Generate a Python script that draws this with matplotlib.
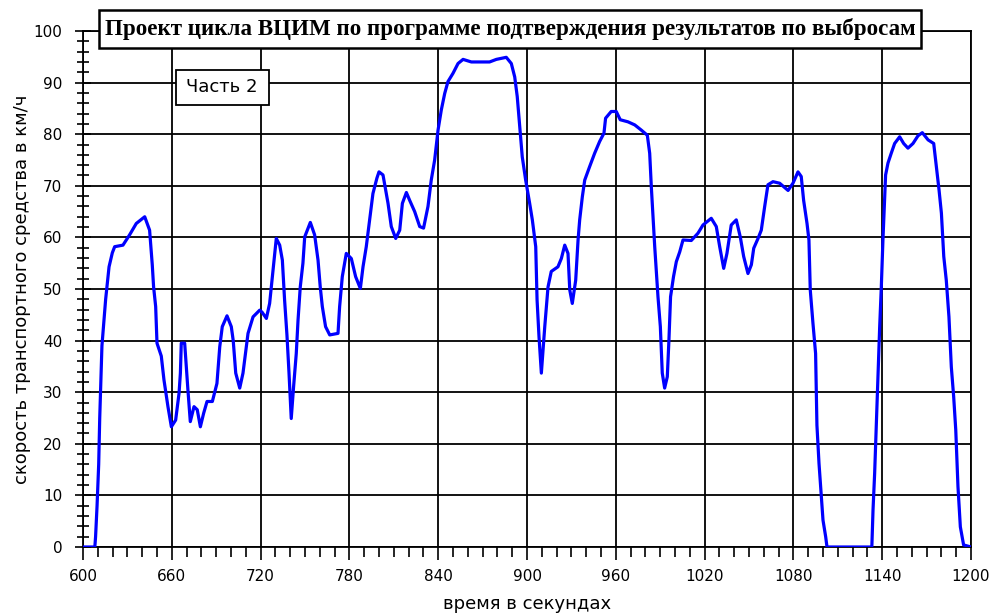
import matplotlib
matplotlib.use("Agg")
import matplotlib.pyplot as plt
import matplotlib.ticker
import matplotlib.patches

# speed trace (time in s, speed in km/h)
times = [600, 608, 608.5, 609.5, 610.6, 611.3, 612.8, 614.2, 615.3, 616.4, 617.6, 619.8,
         621.4, 627, 631.5, 636, 641.7, 645, 646.8, 647.7, 649.1, 650, 652.9, 654.7,
         657.4, 659.7, 662.6, 664.9, 665.8, 666.4, 668.7, 670.9, 672.5, 675, 677.2, 679.3,
         681.5, 683.8, 687.4, 690.5, 692.4, 694.1, 697.3, 700.2, 701.5, 703.2, 705.9, 708.1,
         711.5, 714.9, 719.4, 721, 723.9, 726.1, 728.4, 730.6, 732.9, 734.7, 736.2, 737.8,
         739.2, 740.7, 742.3, 744.1, 745.3, 746.8, 748.6, 749.8, 753.6, 756.5, 758.8, 760.3,
         761.7, 763.9, 766.7, 772.3, 773.4, 775.2, 777.9, 781.3, 784.2, 787.4, 789.2, 791.4,
         793.7, 795.9, 798.6, 800, 802.7, 806.1, 808.3, 811.3, 814, 815.8, 818.5, 820.7,
         824.1, 827.5, 830.1, 833.1, 835.3, 837.6, 839.9, 842.1, 844.4, 846.6, 850, 853.4,
         856.8, 862.4, 874.7, 879.3, 886, 889.4, 891.7, 893.4, 895.1, 896.8, 899.1, 901.8,
         903.6, 905.9, 906.8, 908.1, 909.7, 912, 914.2, 916.4, 920.9, 923.2, 925.5, 927.7,
         928.9, 930.6, 932.9, 934.5, 935.6, 937.4, 939, 942.3, 945.7, 949.1, 952, 953.1,
         956.9, 960.3, 963, 968.2, 972.8, 977.2, 981.3, 982.9, 984, 986.3, 988.5, 990.1,
         991.4, 993, 994.8, 995.9, 997, 999, 1000.9, 1003.2, 1005.4, 1011, 1015.5, 1018.9,
         1024.5, 1027.9, 1030.2, 1032.9, 1035.1, 1038, 1041.4, 1044.1, 1046.4, 1049.3, 1051.6, 1053.2,
         1056.1, 1058.3, 1060.6, 1062.8, 1066.2, 1070.7, 1076.4, 1079.7, 1083.1, 1085.3, 1086.9, 1089.2,
         1090.5, 1091.4, 1093.2, 1095, 1095.9, 1097.3, 1098.9, 1100, 1101.8, 1102.7, 1133, 1133.8,
         1134.9, 1136, 1137.2, 1138.3, 1139.4, 1140.5, 1141.7, 1142.3, 1143.9, 1146.1, 1148.4, 1151.8,
         1154.5, 1157.4, 1160.8, 1164.2, 1167.1, 1171, 1174.8, 1176.6, 1178.4, 1180, 1181.6, 1183.3,
         1185.1, 1186.7, 1188.3, 1189.7, 1191.2, 1192.8, 1195, 1200]
speeds = [0, 0, 2, 8, 16, 25, 39, 44, 48, 51, 54.3, 57,
          58.2, 58.5, 60.5, 62.7, 64, 61.4, 54.7, 50.4, 46.6, 39.5, 37, 32.4,
          27.2, 23.3, 24.6, 29.8, 33.7, 39.5, 39.5, 30.4, 24.3, 27.2, 26.6, 23.3,
          25.9, 28.2, 28.2, 31.7, 38.8, 42.7, 44.8, 42.7, 40, 33.7, 30.8, 33.7,
          41.4, 44.6, 45.9, 45.5, 44.3, 47.2, 53.7, 59.8, 58.5, 55.6, 47.9, 41.1,
          33.7, 24.9, 31.1, 37.5, 44, 50.4, 55, 60.1, 62.9, 60.5, 55.6, 50.4,
          46.6, 42.7, 41.1, 41.4, 46.6, 52.4, 56.9, 55.9, 52.4, 50.1, 54.3, 58.2,
          63.4, 68.5, 71.5, 72.7, 72.1, 66.6, 62.1, 59.8, 61.4, 66.6, 68.7, 67.2,
          65, 62.1, 61.8, 66, 71.1, 75, 80.8, 84.7, 87.9, 90.2, 91.8, 93.7,
          94.5, 94, 94, 94.5, 94.9, 93.7, 91.1, 87.3, 81.5, 75.6, 71.1, 66.6,
          63.4, 58.2, 47.9, 40.8, 33.7, 42.7, 50.4, 53.4, 54.3, 55.9, 58.5, 56.9,
          49.8, 47.2, 51.7, 59.5, 63.4, 67.9, 71.1, 73.7, 76.3, 78.6, 80.2, 83.1,
          84.4, 84.4, 82.8, 82.4, 81.8, 80.8, 79.8, 76.3, 69.8, 58.2, 48.5, 42.7,
          33.7, 30.8, 33, 40.1, 48.5, 52.4, 55.3, 57.2, 59.5, 59.4, 60.8, 62.4,
          63.7, 62.1, 58.2, 54, 56.9, 62.4, 63.4, 60.1, 56.3, 53, 54.7, 57.9,
          59.8, 61.4, 66, 70.2, 70.8, 70.5, 69.1, 70.5, 72.7, 71.8, 67.2, 62.7,
          59.5, 49.8, 43.4, 37.5, 23.6, 16.2, 9.7, 5.2, 2, 0, 0, 7.2,
          14.3, 23.3, 33, 42.7, 50.4, 59.5, 67.9, 72.1, 74.4, 76.3, 78.2, 79.5,
          78.2, 77.3, 78.2, 79.7, 80.3, 78.9, 78.2, 73.7, 69.2, 64.7, 56.3, 51.7,
          44.6, 34.9, 29.1, 22.7, 11.7, 3.9, 0.4, 0]

x_ticks = [600, 660, 720, 780, 840, 900, 960, 1020, 1080, 1140, 1200]
y_ticks = [0, 10, 20, 30, 40, 50, 60, 70, 80, 90, 100]

title = "Проект цикла ВЦИМ по программе подтверждения результатов по выбросам"
part = "Часть 2"
xlabel = "время в секундах"
ylabel = "скорость транспортного средства в км/ч"

W, H = 995, 613
fig = plt.figure(figsize=(W / 100, H / 100), dpi=100)
axes = fig.add_axes([83 / W, 1 - 547 / H, (971 - 83) / W, (547 - 31) / H])

axes.plot(times, speeds, color="#0000ff", linewidth=2.3, zorder=3)

axes.set_xlim(600, 1200)
axes.set_ylim(0, 100)
axes.xaxis.set_major_locator(matplotlib.ticker.FixedLocator(x_ticks))
axes.yaxis.set_major_locator(matplotlib.ticker.FixedLocator(y_ticks))
axes.xaxis.set_minor_locator(matplotlib.ticker.MultipleLocator(10))
axes.yaxis.set_minor_locator(matplotlib.ticker.MultipleLocator(2))

axes.grid(True, which="major", color="black", linewidth=1.3)
for s in axes.spines.values():
    s.set_linewidth(1.3)

axes.tick_params(axis="x", which="major", direction="out", length=9, width=1.2,
                 labelsize=11, pad=7)
axes.tick_params(axis="x", which="minor", direction="out", length=7, width=1.2)
axes.tick_params(axis="y", which="major", direction="inout", length=12, width=1.2,
                 labelsize=11, pad=9)
axes.tick_params(axis="y", which="minor", direction="inout", length=9, width=1.2)

axes.set_xlabel(xlabel, fontsize=13, labelpad=8)
axes.set_ylabel(ylabel, fontsize=13, labelpad=2)

# title box sitting across the top edge of the plot
fig.add_artist(matplotlib.patches.Rectangle((99 / W, 1 - 48 / H), 822 / W, 38 / H,
                                            transform=fig.transFigure, facecolor="white",
                                            edgecolor="black", linewidth=1.8, zorder=5))
fig.text(510 / W, 1 - 29 / H, title, ha="center", va="center", fontsize=16.6,
         fontweight="bold", family="Liberation Serif", zorder=6)

# "part 2" label
fig.add_artist(matplotlib.patches.Rectangle((176 / W, 1 - 105 / H), 93 / W, 35 / H,
                                            transform=fig.transFigure, facecolor="white",
                                            edgecolor="black", linewidth=1.3, zorder=5))
fig.text(222 / W, 1 - 87.5 / H, part, ha="center", va="center", fontsize=13, zorder=6)

fig.savefig("out.png", dpi=100)
